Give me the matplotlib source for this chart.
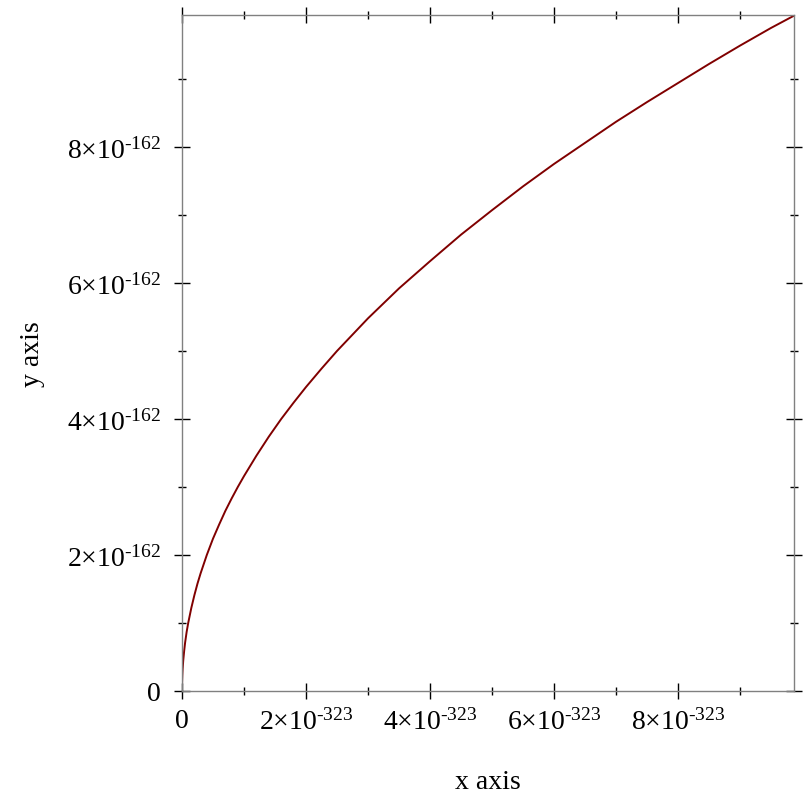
import matplotlib
matplotlib.use("Agg")
import matplotlib.pyplot as plt
from matplotlib.ticker import FixedLocator

plt.rcParams['font.family'] = ['Liberation Serif', 'DejaVu Serif']
plt.rcParams['mathtext.fontset'] = 'custom'
plt.rcParams['mathtext.rm'] = 'Liberation Serif'
plt.rcParams['mathtext.it'] = 'Liberation Serif:italic'
plt.rcParams['mathtext.bf'] = 'Liberation Serif:bold'

# x in units of 1e-323, y in units of 1e-162
x_vals = [0, 0.0005, 0.001, 0.002, 0.005, 0.01, 0.02, 0.035, 0.05, 0.075, 0.1, 0.15, 0.2, 0.25,
          0.3, 0.4, 0.5, 0.6, 0.7, 0.8, 0.9, 1.0, 1.2, 1.4, 1.6, 1.8, 2.0, 2.25, 2.5, 2.75, 3.0,
          3.25, 3.5, 3.75, 4.0, 4.5, 5.0, 5.5, 6.0, 6.5, 7.0, 7.5, 8.0, 8.5, 9.0, 9.5, 9.87]
y_vals = [0, 0.07, 0.10, 0.14, 0.22, 0.32, 0.45, 0.59, 0.71, 0.87, 1.00, 1.22, 1.41, 1.58,
          1.73, 2.00, 2.24, 2.45, 2.65, 2.83, 3.00, 3.16, 3.46, 3.74, 4.00, 4.24, 4.47, 4.74, 5.00, 5.24, 5.48,
          5.70, 5.92, 6.12, 6.32, 6.71, 7.07, 7.42, 7.75, 8.06, 8.37, 8.66, 8.94, 9.22, 9.49, 9.75, 9.93]

x_major = [0, 2, 4, 6, 8]
x_labels = ['0', r'$2{\times}10^{\text{-323}}$', r'$4{\times}10^{\text{-323}}$',
            r'$6{\times}10^{\text{-323}}$', r'$8{\times}10^{\text{-323}}$']
x_minor = [1, 3, 5, 7, 9]
y_major = [0, 2, 4, 6, 8]
y_labels = ['0', r'$2{\times}10^{\text{-162}}$', r'$4{\times}10^{\text{-162}}$',
            r'$6{\times}10^{\text{-162}}$', r'$8{\times}10^{\text{-162}}$']
y_minor = [1, 3, 5, 7, 9]

fig = plt.figure(figsize=(8.12, 8.12), dpi=100)
ax = fig.add_axes([182/812, 1-692/812, (794-182)/812, (692-16)/812])
ax.plot(x_vals, y_vals, color='#800000', lw=1.4)
ax.set_xlim(0, 9.87)
ax.set_ylim(0, 9.94)

for s in ax.spines.values():
    s.set_color('#808080')
    s.set_linewidth(1.0)

ax.xaxis.set_major_locator(FixedLocator(x_major))
ax.xaxis.set_minor_locator(FixedLocator(x_minor))
ax.yaxis.set_major_locator(FixedLocator(y_major))
ax.yaxis.set_minor_locator(FixedLocator(y_minor))
ax.set_xticklabels(x_labels)
ax.set_yticklabels(y_labels)
ax.tick_params(which='both', direction='inout', top=True, right=True, color='black', width=1.0)
ax.tick_params(which='major', length=12, labelsize=20)
ax.tick_params(axis='x', which='major', pad=6)
ax.tick_params(axis='y', which='major', pad=9)
ax.tick_params(which='minor', length=6)

ax.set_xlabel('x axis', fontsize=20, labelpad=25)
ax.set_ylabel('y axis', fontsize=20, labelpad=16)

fig.savefig('out.png', dpi=100)
